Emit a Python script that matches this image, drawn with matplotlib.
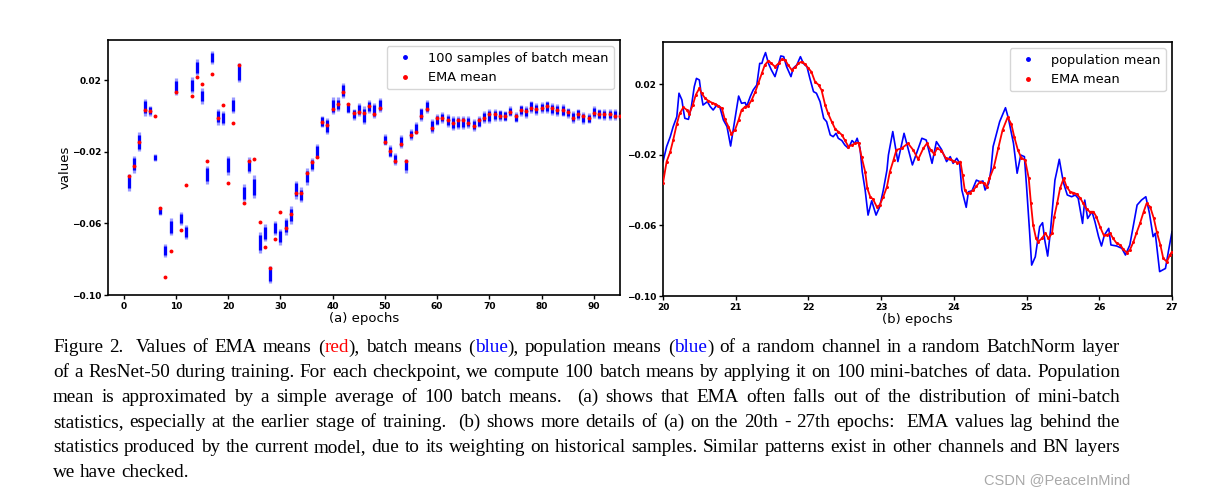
import re
import numpy as np
import matplotlib
matplotlib.use('Agg')
import matplotlib.pyplot as plt
from matplotlib.lines import Line2D

# (a) per-epoch batch-mean spread (low/high of the 100 samples) and EMA mean
epochs = np.arange(1, 96)
batch_lo = [
    -0.0418, -0.0319, -0.0198, 0.0002, 0.0002, -0.0254, -0.0556, -0.0790, -0.0667, 0.0118,
    -0.0608, -0.0686, 0.0127, 0.0226, 0.0068, -0.0381, 0.0289, -0.0050, -0.0053, -0.0329,
    0.0016, 0.0187, -0.0477, -0.0319, -0.0459, -0.0766, -0.0701, -0.0933, -0.0663, -0.0719,
    -0.0663, -0.0604, -0.0463, -0.0481, -0.0384, -0.0310, -0.0236, -0.0064, -0.0102, 0.0010,
    0.0025, 0.0099, 0.0016, -0.0022, 0.0002, -0.0046, 0.0016, -0.0012, 0.0021, -0.0165,
    -0.0232, -0.0273, -0.0180, -0.0316, -0.0133, -0.0102, -0.0027, 0.0016, -0.0096, -0.0053,
    -0.0040, -0.0064, -0.0078, -0.0072, -0.0072, -0.0068, -0.0083, -0.0064, -0.0040, -0.0040,
    -0.0027, -0.0027, -0.0031, -0.0003, -0.0035, 0.0002, -0.0009, 0.0016, 0.0006, 0.0016,
    0.0016, 0.0006, 0.0002, -0.0003, -0.0009, -0.0040, -0.0022, -0.0046, -0.0040, -0.0009,
    -0.0018, -0.0022, -0.0022, -0.0022, -0.0022]
batch_hi = [
    -0.0325, -0.0221, -0.0092, 0.0095, 0.0058, -0.0213, -0.0511, -0.0715, -0.0570, 0.0211,
    -0.0537, -0.0608, 0.0216, 0.0317, 0.0155, -0.0278, 0.0360, 0.0040, 0.0029, -0.0221,
    0.0103, 0.0294, -0.0381, -0.0230, -0.0332, -0.0649, -0.0604, -0.0840, -0.0585, -0.0632,
    -0.0570, -0.0505, -0.0362, -0.0399, -0.0291, -0.0236, -0.0157, 0.0002, -0.0012, 0.0103,
    0.0103, 0.0183, 0.0071, 0.0040, 0.0071, 0.0053, 0.0090, 0.0071, 0.0099, -0.0102,
    -0.0161, -0.0208, -0.0109, -0.0239, -0.0074, -0.0035, 0.0047, 0.0090, -0.0018, 0.0010,
    0.0021, 0.0010, -0.0003, 0.0002, 0.0000, -0.0003, -0.0016, -0.0003, 0.0029, 0.0038,
    0.0040, 0.0034, 0.0029, 0.0053, 0.0021, 0.0062, 0.0056, 0.0086, 0.0071, 0.0077,
    0.0086, 0.0071, 0.0066, 0.0066, 0.0047, 0.0025, 0.0040, 0.0021, 0.0016, 0.0053,
    0.0040, 0.0038, 0.0038, 0.0038, 0.0029]
ema_a = [
    -0.0338, -0.0277, -0.0148, 0.0032, 0.0030, -0.0003, -0.0516, -0.0900, -0.0756, 0.0135,
    -0.0639, -0.0383, 0.0114, 0.0218, 0.0181, -0.0252, 0.0233, -0.0011, 0.0062, -0.0375,
    -0.0042, 0.0287, -0.0489, -0.0250, -0.0243, -0.0595, -0.0730, -0.0849, -0.0688, -0.0539,
    -0.0626, -0.0546, -0.0429, -0.0433, -0.0317, -0.0258, -0.0228, -0.0033, -0.0048, 0.0040,
    0.0068, 0.0135, 0.0066, 0.0014, 0.0021, 0.0014, 0.0053, 0.0008, 0.0043, -0.0143,
    -0.0198, -0.0249, -0.0154, -0.0249, -0.0105, -0.0087, 0.0000, 0.0040, -0.0068, -0.0012,
    -0.0009, -0.0020, -0.0037, -0.0024, -0.0022, -0.0038, -0.0059, -0.0024, -0.0012, 0.0008,
    0.0010, 0.0000, -0.0003, 0.0021, -0.0003, 0.0032, 0.0025, 0.0045, 0.0040, 0.0047,
    0.0055, 0.0043, 0.0034, 0.0034, 0.0023, -0.0012, 0.0010, -0.0002, -0.0014, 0.0014,
    0.0010, 0.0010, 0.0008, 0.0000, 0.0002]

# (b) epochs 20-27: population mean and EMA mean
pop_x = [20.0, 20.05, 20.10, 20.14, 20.19, 20.22, 20.26, 20.28, 20.30, 20.35, 20.39, 20.43,
         20.46, 20.50, 20.53, 20.55, 20.61, 20.65, 20.69, 20.74, 20.78, 20.83, 20.88, 20.93,
         20.98, 21.04, 21.08, 21.13, 21.15, 21.20, 21.24, 21.29, 21.33, 21.36, 21.38, 21.41,
         21.45, 21.49, 21.54, 21.58, 21.62, 21.66, 21.70, 21.76, 21.79, 21.84, 21.89, 21.93,
         21.98, 22.02, 22.07, 22.11, 22.16, 22.21, 22.25, 22.30, 22.34, 22.38, 22.41, 22.46,
         22.50, 22.55, 22.60, 22.64, 22.67, 22.71, 22.74, 22.78, 22.82, 22.87, 22.93, 22.98,
         23.03, 23.08, 23.10, 23.16, 23.23, 23.315, 23.43, 23.56, 23.62, 23.70, 23.76, 23.83,
         23.90, 23.95, 23.99, 24.04, 24.08, 24.11, 24.17, 24.20, 24.25, 24.31, 24.36, 24.40,
         24.43, 24.48, 24.51, 24.54, 24.63, 24.71, 24.75, 24.82, 24.87, 24.92, 24.97, 25.00,
         25.04, 25.07, 25.12, 25.18, 25.22, 25.25, 25.29, 25.33, 25.39, 25.42, 25.45, 25.49,
         25.51, 25.56, 25.62, 25.67, 25.71, 25.77, 25.80, 25.84, 25.90, 25.94, 25.99, 26.03,
         26.07, 26.13, 26.16, 26.24, 26.31, 26.36, 26.42, 26.47, 26.52, 26.58, 26.64, 26.69,
         26.74, 26.77, 26.83, 26.91, 26.95, 27.00]
pop_y = [-0.0240, -0.0154, -0.0098, -0.0041, 0.0015, 0.0148, 0.0110, 0.0053, 0.0006, 0.0000,
         0.0072, 0.0185, 0.0232, 0.0223, 0.0129, 0.0081, 0.0100, 0.0072, 0.0053, 0.0081,
         0.0072, -0.0003, -0.0041, -0.0151, -0.0022, 0.0132, 0.0091, 0.0095, 0.0072, 0.0129,
         0.0166, 0.0195, 0.0317, 0.0317, 0.0346, 0.0378, 0.0317, 0.0280, 0.0242, 0.0298,
         0.0359, 0.0355, 0.0298, 0.0242, 0.0289, 0.0308, 0.0355, 0.0317, 0.0298, 0.0232,
         0.0157, 0.0148, 0.0100, 0.0006, -0.0013, -0.0088, -0.0098, -0.0079, -0.0107, -0.0120,
         -0.0145, -0.0164, -0.0120, -0.0136, -0.0107, -0.0164, -0.0296, -0.0400, -0.0542, -0.0461,
         -0.0542, -0.0495, -0.0400, -0.0287, -0.0202, -0.0069, -0.0239, -0.0079, -0.0258, -0.0107,
         -0.0117, -0.0249, -0.0126, -0.0170, -0.0239, -0.0211, -0.0249, -0.0220, -0.0249, -0.0400,
         -0.0498, -0.0410, -0.0404, -0.0344, -0.0353, -0.0349, -0.0400, -0.0362, -0.0287, -0.0154,
         -0.0013, 0.0066, 0.0006, -0.0136, -0.0305, -0.0202, -0.0211, -0.0381, -0.0627, -0.0825,
         -0.0778, -0.0608, -0.0585, -0.0683, -0.0774, -0.0627, -0.0344, -0.0287, -0.0226, -0.0320,
         -0.0362, -0.0428, -0.0438, -0.0428, -0.0447, -0.0589, -0.0457, -0.0561, -0.0523, -0.0579,
         -0.0664, -0.0717, -0.0655, -0.0617, -0.0711, -0.0717, -0.0730, -0.0768, -0.0711, -0.0598,
         -0.0485, -0.0457, -0.0438, -0.0532, -0.0664, -0.0645, -0.0862, -0.0844, -0.0749, -0.0636]
ema_x = [20.00, 20.05, 20.10, 20.14, 20.19, 20.23, 20.28, 20.33, 20.36, 20.41, 20.45, 20.50,
         20.53, 20.58, 20.62, 20.67, 20.72, 20.76, 20.81, 20.85, 20.90, 20.94, 20.99, 21.04,
         21.08, 21.13, 21.17, 21.22, 21.27, 21.31, 21.36, 21.40, 21.45, 21.49, 21.54, 21.59,
         21.63, 21.68, 21.72, 21.77, 21.82, 21.86, 21.91, 21.95, 22.00, 22.04, 22.09, 22.14,
         22.18, 22.23, 22.27, 22.32, 22.37, 22.41, 22.46, 22.50, 22.55, 22.60, 22.64, 22.69,
         22.73, 22.78, 22.81, 22.85, 22.89, 22.94, 22.98, 23.03, 23.08, 23.12, 23.17, 23.21,
         23.28, 23.37, 23.44, 23.51, 23.58, 23.63, 23.68, 23.73, 23.77, 23.83, 23.89, 23.95,
         23.99, 24.05, 24.09, 24.12, 24.15, 24.18, 24.22, 24.27, 24.31, 24.36, 24.41, 24.45,
         24.49, 24.55, 24.61, 24.67, 24.74, 24.79, 24.83, 24.88, 24.93, 24.98, 25.03, 25.06,
         25.09, 25.13, 25.16, 25.21, 25.26, 25.30, 25.35, 25.38, 25.42, 25.46, 25.51, 25.55,
         25.60, 25.64, 25.69, 25.74, 25.78, 25.83, 25.87, 25.92, 25.96, 26.01, 26.06, 26.10,
         26.15, 26.19, 26.24, 26.29, 26.33, 26.38, 26.42, 26.47, 26.51, 26.56, 26.61, 26.65,
         26.70, 26.75, 26.79, 26.84, 26.88, 26.93, 26.97, 27.00]
ema_y = [-0.0360, -0.0239, -0.0183, -0.0117, -0.0026, 0.0034, 0.0068, 0.0053, 0.0031, 0.0081,
         0.0138, 0.0176, 0.0148, 0.0119, 0.0106, 0.0095, 0.0087, 0.0076, 0.0063, 0.0000,
         -0.0041, -0.0083, -0.0060, -0.0003, 0.0053, 0.0072, 0.0076, 0.0110, 0.0157, 0.0204,
         0.0261, 0.0308, 0.0332, 0.0317, 0.0298, 0.0317, 0.0340, 0.0336, 0.0308, 0.0280,
         0.0295, 0.0317, 0.0327, 0.0314, 0.0289, 0.0270, 0.0214, 0.0195, 0.0166, 0.0081,
         0.0034, -0.0013, -0.0056, -0.0069, -0.0088, -0.0117, -0.0154, -0.0145, -0.0136, -0.0132,
         -0.0211, -0.0296, -0.0391, -0.0438, -0.0453, -0.0495, -0.0485, -0.0438, -0.0381, -0.0296,
         -0.0230, -0.0173, -0.0164, -0.0136, -0.0173, -0.0226, -0.0164, -0.0136, -0.0173, -0.0196,
         -0.0164, -0.0177, -0.0220, -0.0226, -0.0234, -0.0245, -0.0239, -0.0315, -0.0400, -0.0419,
         -0.0415, -0.0400, -0.0378, -0.0353, -0.0362, -0.0381, -0.0334, -0.0271, -0.0164, -0.0060,
         0.0012, -0.0026, -0.0098, -0.0173, -0.0220, -0.0230, -0.0334, -0.0476, -0.0598, -0.0674,
         -0.0693, -0.0674, -0.0645, -0.0674, -0.0645, -0.0551, -0.0476, -0.0391, -0.0334, -0.0381,
         -0.0410, -0.0415, -0.0423, -0.0447, -0.0476, -0.0510, -0.0523, -0.0523, -0.0551, -0.0608,
         -0.0655, -0.0655, -0.0645, -0.0674, -0.0702, -0.0711, -0.0736, -0.0755, -0.0740, -0.0693,
         -0.0645, -0.0589, -0.0523, -0.0476, -0.0495, -0.0561, -0.0636, -0.0711, -0.0787, -0.0806,
         -0.0768, -0.0749]

yticks = [0.02, -0.02, -0.06, -0.10]

caption = [
    "Figure 2.  Values of EMA means ({red:red}), batch means ({blue:blue}), population means ({blue:blue}) of a random channel in a random BatchNorm layer",
    "of a ResNet-50 during training. For each checkpoint, we compute 100 batch means by applying it on 100 mini-batches of data. Population",
    "mean is approximated by a simple average of 100 batch means.  (a) shows that EMA often falls out of the distribution of mini-batch",
    "statistics, especially at the earlier stage of training.  (b) shows more details of (a) on the 20th - 27th epochs:  EMA values lag behind the",
    "statistics produced by the current model, due to its weighting on historical samples. Similar patterns exist in other channels and BN layers",
    "we have checked.",
]

W, H = 1211, 494
fig = plt.figure(figsize=(W / 100, H / 100), dpi=100)
fig.patch.set_facecolor('white')

ax1 = fig.add_axes([108 / W, 1 - 295 / H, 512 / W, 255 / H])
ax2 = fig.add_axes([663 / W, 1 - 296 / H, 509 / W, 254 / H])

lo = np.array(batch_lo)
hi = np.array(batch_hi)
span = hi - lo
ax1.vlines(epochs, lo, hi, color='#9a9aff', lw=2.3, zorder=2)
ax1.vlines(epochs, lo + 0.15 * span, hi - 0.15 * span, color='blue', lw=2.3, zorder=2)
ax1.plot(epochs, ema_a, 'o', color='red', ms=2.8, mew=0, zorder=3)
ax1.set_xlim(-3, 95)
ax1.set_ylim(-0.10, 0.0424)
ax1.set_xticks(np.arange(0, 91, 10))
ax1.set_yticks(yticks)
ax1.set_ylabel('values', fontsize=9.5)
ax1.yaxis.set_label_coords(-0.072, 0.5)
ax1.set_xlabel('(a) epochs', fontsize=9.5, labelpad=1)

ax2.plot(pop_x, pop_y, color='blue', lw=1.2, zorder=2)
ax2.plot(ema_x, ema_y, color='red', lw=1.3, marker='o', ms=2.2, mew=0, zorder=3)
ax2.set_xlim(20, 27)
ax2.set_ylim(-0.10, 0.0438)
ax2.set_yticks(yticks)
ax2.set_xlabel('(b) epochs', fontsize=9.5, labelpad=1)

for ax in (ax1, ax2):
    ax.tick_params(labelsize=6.5, length=3, width=1, pad=2)
    for lab in ax.get_xticklabels() + ax.get_yticklabels():
        lab.set_fontweight('bold')
    for sp in ax.spines.values():
        sp.set_linewidth(1.2)

hb = Line2D([], [], ls='', marker='.', color='blue', ms=5)
hr = Line2D([], [], ls='', marker='.', color='red', ms=5)
ax1.legend([hb, hr], ['100 samples of batch mean', 'EMA mean'], loc='upper right', fontsize=9.3)
ax2.legend([hb, hr], ['population mean', 'EMA mean'], loc='upper right', fontsize=9.3)

# caption, justified word by word
renderer = fig.canvas.get_renderer()
cap_font = dict(family='Liberation Serif', fontsize=13.8)
seg_re = re.compile(r'\{(\w+):([^}]*)\}')


def split_segments(word):
    segs = []
    pos = 0
    for m in seg_re.finditer(word):
        if m.start() > pos:
            segs.append((word[pos:m.start()], 'black'))
        segs.append((m.group(2), m.group(1)))
        pos = m.end()
    if pos < len(word):
        segs.append((word[pos:], 'black'))
    return segs


def text_width(s):
    t = fig.text(0, 0, s, **cap_font)
    w = t.get_window_extent(renderer).width
    t.remove()
    return w


space_w = text_width('a b') - text_width('ab')
x_left, x_right = 53, 1120
baseline0, line_gap = 352.5, 24.8

for i, line in enumerate(caption):
    words, weights = [], []
    for tok in line.split(' '):
        if tok == '':
            weights[-1] += 1
            continue
        words.append(split_segments(tok))
        weights.append(1)
    weights = weights[:-1]
    # segment offsets inside a word from prefix widths
    offsets, widths = [], []
    for segs in words:
        offs, prefix = [], ''
        for s, c in segs:
            prefix += s
            offs.append(text_width(prefix) - text_width(s))
        offsets.append(offs)
        widths.append(text_width(prefix))
    total = sum(widths)
    if i < len(caption) - 1:
        unit = max((x_right - x_left - total) / sum(weights), 0.6 * space_w)
    else:
        unit = space_w
    x = x_left
    y = 1 - (baseline0 + i * line_gap) / H
    for k, segs in enumerate(words):
        for (s, c), off in zip(segs, offsets[k]):
            fig.text((x + off) / W, y, s, color=c, va='baseline', ha='left', **cap_font)
        x += widths[k]
        if k < len(weights):
            x += unit * weights[k]

fig.text(1130 / W, 1 - 484 / H, 'CSDN @PeaceInMind', ha='right', va='baseline',
         fontsize=10.5, color='#a8a8a8', family='Liberation Sans')

fig.savefig('out.png', dpi=100)
